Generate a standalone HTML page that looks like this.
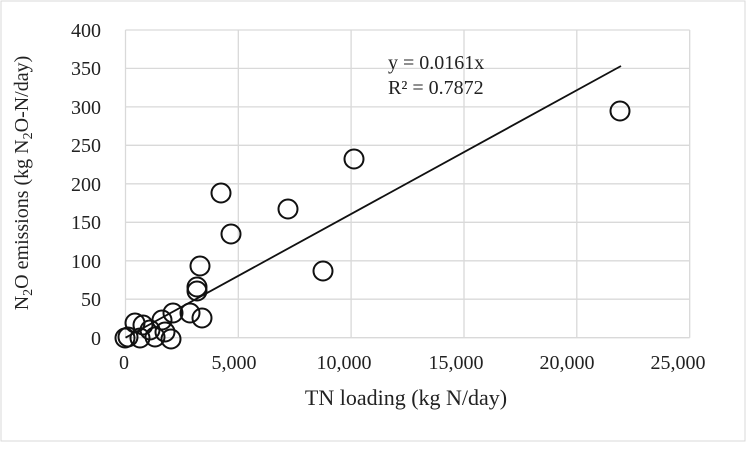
<!DOCTYPE html>
<html><head><meta charset="utf-8"><style>body{margin:0;background:#fff}</style></head><body>
<svg width="750" height="444" xmlns="http://www.w3.org/2000/svg" font-family="Liberation Serif, serif" font-size="20" fill="#222">
<rect x="1" y="1" width="744" height="440" fill="#fff" stroke="#d9d9d9"/>
<g stroke="#d9d9d9" stroke-width="1.3">
<line x1="125.5" y1="30" x2="689.7" y2="30"/><line x1="125.5" y1="68.4" x2="689.7" y2="68.4"/>
<line x1="125.5" y1="106.9" x2="689.7" y2="106.9"/><line x1="125.5" y1="145.3" x2="689.7" y2="145.3"/>
<line x1="125.5" y1="183.8" x2="689.7" y2="183.8"/><line x1="125.5" y1="222.3" x2="689.7" y2="222.3"/>
<line x1="125.5" y1="260.8" x2="689.7" y2="260.8"/><line x1="125.5" y1="299.2" x2="689.7" y2="299.2"/>
<line x1="125.5" y1="337.7" x2="689.7" y2="337.7"/>
<line x1="125.5" y1="30" x2="125.5" y2="337.7"/><line x1="238.3" y1="30" x2="238.3" y2="337.7"/>
<line x1="351.1" y1="30" x2="351.1" y2="337.7"/><line x1="464" y1="30" x2="464" y2="337.7"/>
<line x1="576.8" y1="30" x2="576.8" y2="337.7"/><line x1="689.7" y1="30" x2="689.7" y2="337.7"/>
</g>
<g text-anchor="end">
<text x="101" y="37">400</text><text x="101" y="75">350</text><text x="101" y="114">300</text>
<text x="101" y="152">250</text><text x="101" y="191">200</text><text x="101" y="229">150</text>
<text x="101" y="268">100</text><text x="101" y="306">50</text><text x="101" y="345">0</text>
</g>
<g text-anchor="middle">
<text x="124" y="369">0</text><text x="234" y="369">5,000</text><text x="344" y="369">10,000</text>
<text x="456" y="369">15,000</text><text x="567" y="369">20,000</text><text x="678" y="369">25,000</text>
<text x="406" y="405" font-size="22">TN loading (kg N/day)</text>
</g>
<text transform="translate(28,183) rotate(-90)" text-anchor="middle" font-size="20">N<tspan font-size="14" dy="4">2</tspan><tspan dy="-4">O emissions (kg N</tspan><tspan font-size="14" dy="4">2</tspan><tspan dy="-4">O-N/day)</tspan></text>
<text x="388" y="69">y = 0.0161x</text>
<text x="388" y="94">R² = 0.7872</text>
<line x1="125.5" y1="337.7" x2="621" y2="66" stroke="#111" stroke-width="1.8"/>
<g fill="none" stroke="#111" stroke-width="2">
<circle cx="620" cy="111" r="9.5"/><circle cx="354" cy="159" r="9.5"/><circle cx="288" cy="209" r="9.5"/>
<circle cx="221" cy="193" r="9.5"/><circle cx="231" cy="234" r="9.5"/><circle cx="323" cy="271" r="9.5"/>
<circle cx="200" cy="266" r="9.5"/><circle cx="197" cy="287" r="9.5"/><circle cx="197" cy="291" r="9.5"/>
<circle cx="190" cy="313" r="9.5"/><circle cx="202" cy="318" r="9.5"/><circle cx="173" cy="313" r="9.5"/>
<circle cx="162" cy="320" r="9.5"/><circle cx="165" cy="332" r="9.5"/><circle cx="171" cy="339" r="9.5"/>
<circle cx="143" cy="325" r="9.5"/><circle cx="135" cy="323" r="9.5"/><circle cx="125" cy="338" r="9.5"/>
<circle cx="140" cy="338" r="9.5"/><circle cx="155" cy="337" r="9.5"/><circle cx="128" cy="337" r="9.5"/>
<circle cx="150" cy="330" r="9.5"/>
</g>
</svg>
</body></html>
